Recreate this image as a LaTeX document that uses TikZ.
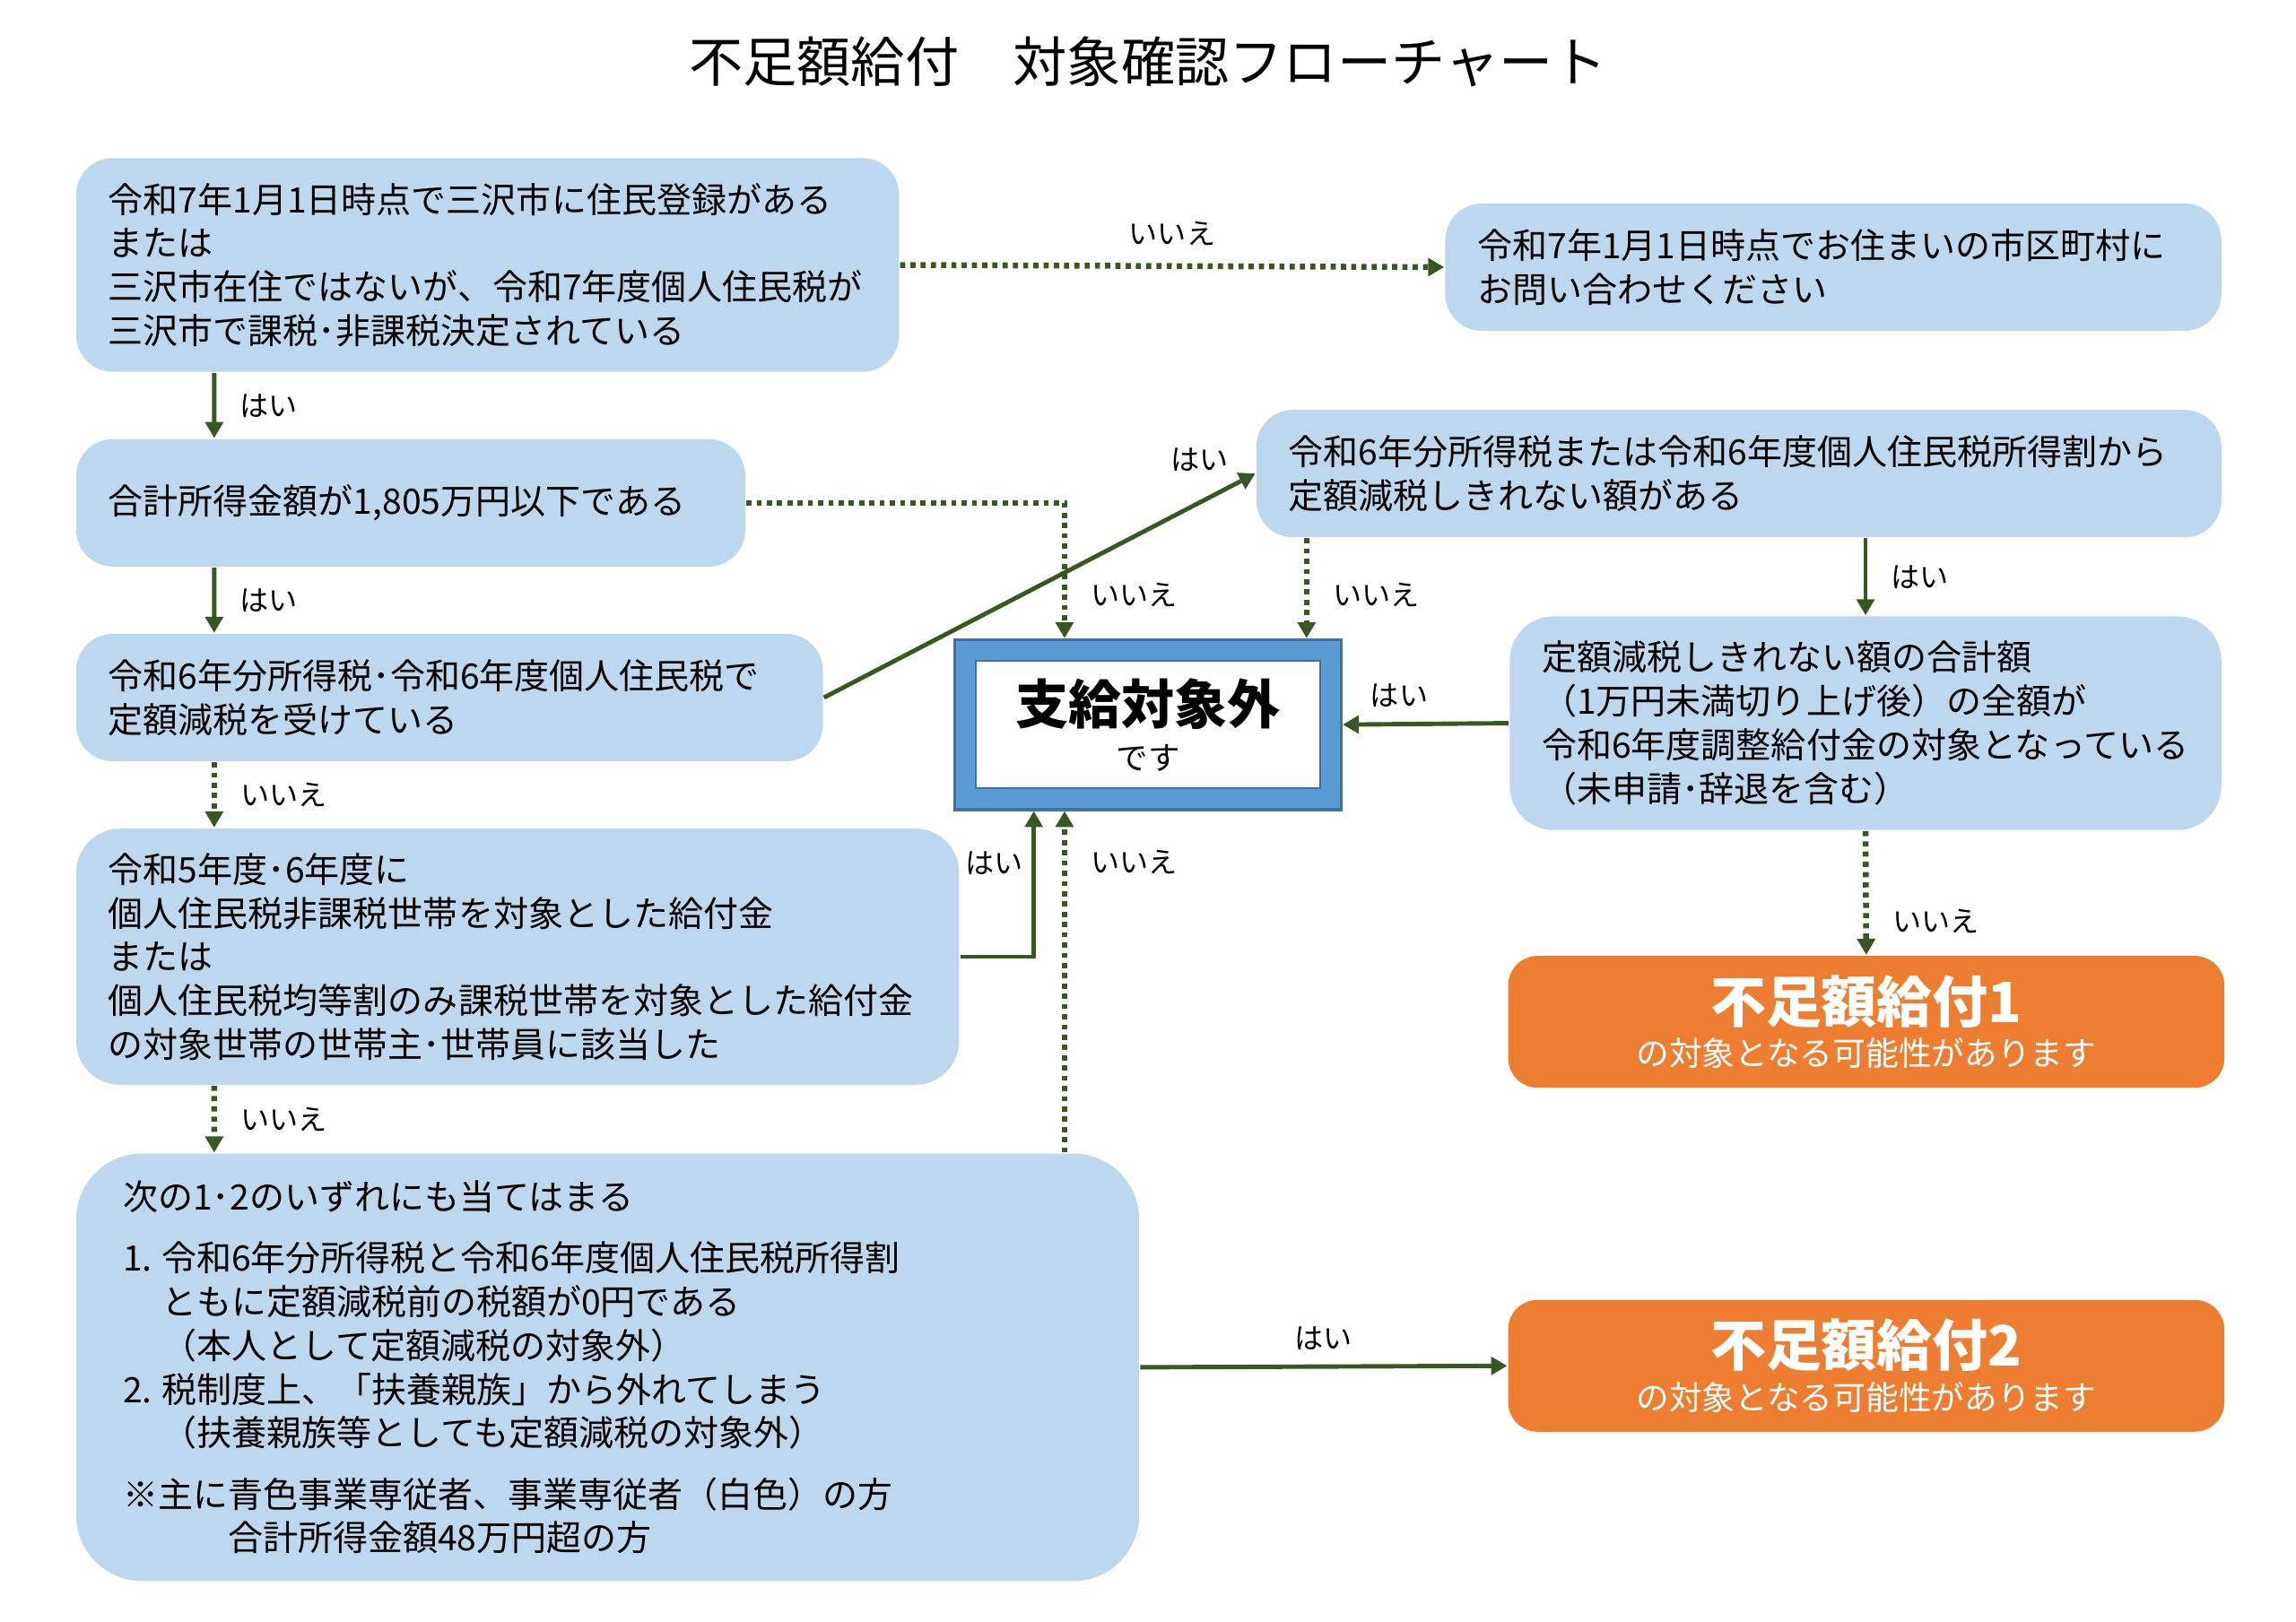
\documentclass[tikz,border=0pt]{standalone}
\usepackage{fontspec}
\setmainfont{Noto Sans CJK JP}
\usetikzlibrary{arrows.meta}
\definecolor{paleblue}{RGB}{189, 215, 238}
\definecolor{forest}{RGB}{56, 87, 35}
\definecolor{carrot}{RGB}{237, 125, 49}
\definecolor{steel}{RGB}{91, 155, 213}
\definecolor{navysteel}{RGB}{65, 113, 156}

\begin{document}
\begin{tikzpicture}[
    qbox/.style    = {fill=paleblue, rounded corners=0.25cm, inner xsep=0.22cm, align=left, font=\fontsize{6.8pt}{8.5pt}\selectfont},
    result/.style  = {fill=carrot, rounded corners=0.2cm, text=white, align=center, minimum width=4.89cm, minimum height=0.90cm, font=\fontsize{6.4pt}{8.5pt}\selectfont},
    yesline/.style = {draw=forest, line width=0.03cm, -{Triangle[length=0.11cm, width=0.12cm]}},
    noline/.style  = {yesline, line width=0.04cm, dash pattern=on 0.035cm off 0.035cm},
    lbl/.style     = {font=\fontsize{5.6pt}{6pt}\selectfont, inner sep=0pt}]
    \useasboundingbox (0,0) rectangle (15.68,-11.08);
    \node (title) at (7.84,-0.42) {\fontsize{10.5pt}{12pt}\selectfont 不足額給付　対象確認フローチャート};

    \node[qbox, text width=5.18cm, minimum height=1.46cm] (reside)  at ( 3.330,-1.810) {令和7年1月1日時点で三沢市に住民登録がある\\または\\三沢市在住ではないが、令和7年度個人住民税が\\三沢市で課税･非課税決定されている};
    \node[qbox, text width=4.86cm, minimum height=0.87cm] (askcity) at (12.520,-1.825) {令和7年1月1日時点でお住まいの市区町村に\\お問い合わせください};
    \node[qbox, text width=4.13cm, minimum height=0.87cm] (income)  at ( 2.805,-3.435) {合計所得金額が1,805万円以下である};
    \node[qbox, text width=4.66cm, minimum height=0.87cm] (teigaku) at ( 3.070,-4.765) {令和6年分所得税･令和6年度個人住民税で\\定額減税を受けている};
    \node[qbox, text width=6.15cm, minimum height=0.87cm] (remain)  at (11.875,-3.235) {令和6年分所得税または令和6年度個人住民税所得割から\\定額減税しきれない額がある};
    \node[qbox, text width=4.42cm, minimum height=1.46cm, rounded corners=0.3cm] (chosei)  at (12.740,-4.940) {定額減税しきれない額の合計額\\（1万円未満切り上げ後）の全額が\\令和6年度調整給付金の対象となっている\\（未申請･辞退を含む）};
    \node[qbox, text width=5.59cm, minimum height=1.75cm, rounded corners=0.3cm] (hikazei) at ( 3.535,-6.535) {令和5年度･6年度に\\個人住民税非課税世帯を対象とした給付金\\または\\個人住民税均等割のみ課税世帯を対象とした給付金\\の対象世帯の世帯主･世帯員に該当した};
    \node[qbox, text width=6.62cm, minimum height=2.92cm, rounded corners=0.45cm, inner xsep=0.32cm] (zero) at ( 4.150,-9.340)
        {次の1･2のいずれにも当てはまる\\[3.4pt]
         \makebox[1.1em][l]{1.}令和6年分所得税と令和6年度個人住民税所得割\\
         \hspace*{1.1em}ともに定額減税前の税額が0円である\\
         \hspace*{1.1em}（本人として定額減税の対象外）\\
         \makebox[1.1em][l]{2.}税制度上、「扶養親族」から外れてしまう\\
         \hspace*{1.1em}（扶養親族等としても定額減税の対象外）\\[3.4pt]
         ※主に青色事業専従者、事業専従者（白色）の方\\
         \hspace*{3em}合計所得金額48万円超の方};

    \node[fill=steel, draw=navysteel, line width=0.02cm, minimum width=2.64cm, minimum height=1.16cm] (outside) at (7.84,-4.95) {};
    \node[fill=white, draw=navysteel, line width=0.015cm, minimum width=2.35cm, minimum height=0.87cm, align=center, font=\fontsize{6.2pt}{8.9pt}\selectfont] (outsidetext) at (outside.center)
        {{\fontsize{10.3pt}{8.9pt}\selectfont\bfseries 支給対象外}\\です};

    \node[result] (kyufu1) at (12.745,-6.98) {{\fontsize{10.8pt}{8.5pt}\selectfont\bfseries 不足額給付1}\\の対象となる可能性があります};
    \node[result] (kyufu2) at (12.745,-9.33) {{\fontsize{10.8pt}{8.5pt}\selectfont\bfseries 不足額給付2}\\の対象となる可能性があります};

    \draw[noline]  (reside.east) -- (askcity.west) node[lbl, midway, above=0.12cm] {いいえ};
    \draw[yesline] ([xshift=0.95cm]reside.south west) -- ([xshift=0.95cm]income.north west) node[lbl, midway, right=0.16cm] {はい};
    \draw[noline]  (income.east) -| ([xshift=0.76cm]outside.north west) node[lbl, pos=0.84, right=0.16cm] {いいえ};
    \draw[yesline] ([xshift=0.95cm]income.south west) -- ([xshift=0.95cm]teigaku.north west) node[lbl, midway, right=0.16cm] {はい};
    \draw[yesline] (teigaku.east) -- (remain.west) node[lbl, pos=0.87, above=0.2cm] {はい};
    \draw[noline]  ([xshift=0.95cm]teigaku.south west) -- ([xshift=0.95cm]hikazei.north west) node[lbl, midway, right=0.16cm] {いいえ};
    \draw[noline]  ([xshift=0.35cm]remain.south west) -- ([xshift=0.35cm]remain.south west |- outside.north) node[lbl, pos=0.57, right=0.16cm] {いいえ};
    \draw[yesline] (chosei.north |- remain.south) -- (chosei.north) node[lbl, midway, right=0.16cm] {はい};
    \draw[yesline] (chosei.west) -- (outside.east) node[lbl, pos=0.66, above=0.1cm] {はい};
    \draw[noline]  (chosei.south) -- (kyufu1.north) node[lbl, pos=0.73, right=0.16cm] {いいえ};
    \draw[yesline] (hikazei.east) -| ([xshift=0.55cm]outside.south west) node[lbl, pos=0.82, left=0.06cm] {はい};
    \draw[noline]  ([xshift=0.95cm]hikazei.south west) -- ([xshift=0.95cm]zero.north west) node[lbl, midway, right=0.16cm] {いいえ};
    \draw[noline]  ([xshift=0.76cm]outside.south west |- zero.north) -- ([xshift=0.76cm]outside.south west) node[lbl, pos=0.85, right=0.16cm] {いいえ};
    \draw[yesline] (zero.east) -- (kyufu2.west) node[lbl, midway, above=0.1cm] {はい};
\end{tikzpicture}
\end{document}
